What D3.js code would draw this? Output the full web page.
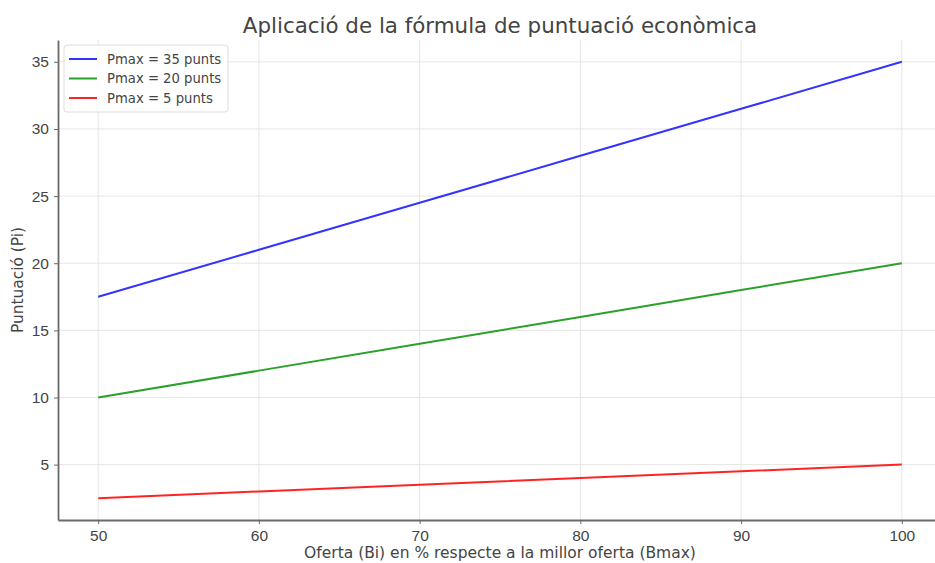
<!DOCTYPE html>
<html>
<head>
<meta charset="utf-8">
<script src="https://cdn.jsdelivr.net/npm/d3@7"></script>
<style>
  body { margin: 0; background: #fff; }
  svg { display: block; font-family: "DejaVu Sans", sans-serif; }
  .grid line { stroke: #e6e6e6; stroke-width: 1; }
  .axis path, .axis line { stroke: #6a6a6a; }
  .axis text { fill: #444; font-size: 15.5px; }
</style>
</head>
<body>
<div class="chart"></div>
<script>
const offers = [50, 60, 70, 80, 90, 100]
const pmax35 = [17.5, 21, 24.5, 28, 31.5, 35]
const pmax20 = [10, 12, 14, 16, 18, 20]
const pmax5 = [2.5, 3, 3.5, 4, 4.5, 5]
const seriesNames = ['Pmax = 35 punts', 'Pmax = 20 punts', 'Pmax = 5 punts']
const seriesColors = ['#3333ff', '#2ca02c', '#ff2424']
const xTicks = [50, 60, 70, 80, 90, 100]
const yTicks = [5, 10, 15, 20, 25, 30, 35]

const width = 935, height = 563
const margin = {top: 40, right: -7, bottom: 43, left: 58}

const series = [pmax35, pmax20, pmax5].map((vals, i) => ({
  name: seriesNames[i],
  color: seriesColors[i],
  values: offers.map((o, j) => ({x: o, y: vals[j]}))
}))

const x = d3.scaleLinear().domain([47.5, 102.5]).range([margin.left, width - margin.right])
const y = d3.scaleLinear().domain([0.875, 36.625]).range([height - margin.bottom, margin.top])

const svg = d3.select('.chart').append('svg')
  .attr('width', width)
  .attr('height', height)

// grid
const grid = svg.append('g').attr('class', 'grid')
grid.selectAll('.gx').data(xTicks).join('line')
  .attr('x1', d => x(d)).attr('x2', d => x(d))
  .attr('y1', y.range()[1]).attr('y2', y.range()[0])
grid.selectAll('.gy').data(yTicks).join('line')
  .attr('x1', x.range()[0]).attr('x2', x.range()[1])
  .attr('y1', d => y(d)).attr('y2', d => y(d))

// lines
const line = d3.line().x(d => x(d.x)).y(d => y(d.y))
svg.append('g').selectAll('path').data(series).join('path')
  .attr('d', d => line(d.values))
  .attr('fill', 'none')
  .attr('stroke', d => d.color)
  .attr('stroke-width', 2)

// axes
const xaxis = svg.append('g')
  .attr('class', 'axis')
  .attr('transform', 'translate(0,' + y.range()[0] + ')')
  .call(d3.axisBottom(x).tickValues(xTicks).tickSizeInner(4).tickSizeOuter(0).tickPadding(6))
xaxis.select('.domain').attr('stroke-width', 1.8)

const yaxis = svg.append('g')
  .attr('class', 'axis')
  .attr('transform', 'translate(' + x.range()[0] + ',0)')
  .call(d3.axisLeft(y).tickValues(yTicks).tickSizeInner(4).tickSizeOuter(0).tickPadding(5))
yaxis.select('.domain').attr('stroke-width', 1.8)

// title and labels
svg.append('text')
  .attr('x', 500).attr('y', 33)
  .attr('text-anchor', 'middle')
  .attr('fill', '#444')
  .style('font-size', '21.4px')
  .text('Aplicació de la fórmula de puntuació econòmica')

svg.append('text')
  .attr('x', 500).attr('y', 558)
  .attr('text-anchor', 'middle')
  .attr('fill', '#444')
  .style('font-size', '15.5px')
  .text('Oferta (Bi) en % respecte a la millor oferta (Bmax)')

svg.append('text')
  .attr('transform', 'translate(23,' + ((y.range()[0] + y.range()[1]) / 2) + ') rotate(-90)')
  .attr('text-anchor', 'middle')
  .attr('fill', '#444')
  .style('font-size', '15.4px')
  .text('Puntuació (Pi)')

// legend
const legend = svg.append('g').attr('transform', 'translate(64,45)')
legend.append('rect')
  .attr('width', 164).attr('height', 67)
  .attr('rx', 3)
  .attr('fill', '#fff')
  .attr('fill-opacity', 0.85)
  .attr('stroke', '#ddd')

const items = legend.selectAll('.item').data(series).join('g')
  .attr('transform', (d, i) => 'translate(0,' + (14 + i * 19.5) + ')')
items.append('line')
  .attr('x1', 5).attr('x2', 33)
  .attr('stroke', d => d.color)
  .attr('stroke-width', 2)
items.append('text')
  .attr('x', 43).attr('y', 4.5)
  .attr('fill', '#444')
  .style('font-size', '13.2px')
  .text(d => d.name)
</script>
</body>
</html>
